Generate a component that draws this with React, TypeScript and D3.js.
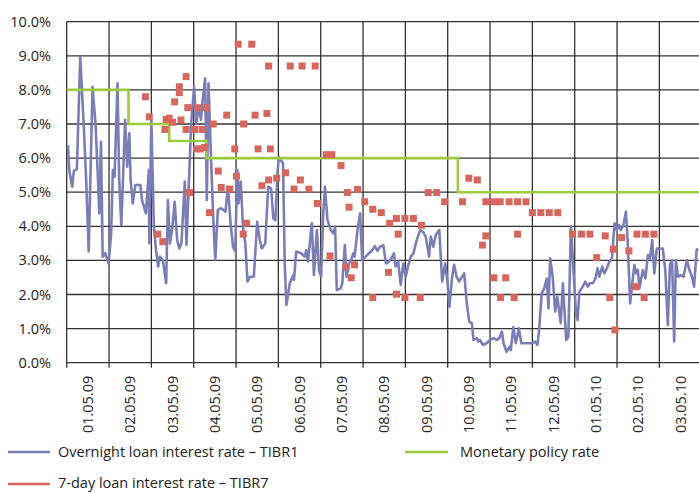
import React from "react";
import * as d3 from "d3";

const monthLabels = [
  "01.05.09", "02.05.09", "03.05.09", "04.05.09", "05.05.09", "06.05.09",
  "07.05.09", "08.05.09", "09.05.09", "10.05.09", "11.05.09", "12.05.09",
  "01.05.10", "02.05.10", "03.05.10",
];
const yTicks = [0, 1, 2, 3, 4, 5, 6, 7, 8, 9, 10];

// Monetary policy rate (step changes), x in months from start
const policyPos = [0, 1.46, 2.42, 3.3, 9.24, 15];
const policyRate = [8.0, 7.0, 6.5, 6.0, 5.0, 5.0];

// Overnight rate TIBR1
const overnightPos = [
  0.03, 0.06, 0.13, 0.17, 0.24, 0.32, 0.4, 0.46, 0.52, 0.61, 0.68, 0.74, 0.77, 0.81, 0.85, 0.91, 0.99,
  1.05, 1.09, 1.13, 1.2, 1.24, 1.29, 1.35, 1.38, 1.43, 1.48, 1.51, 1.56, 1.62, 1.74, 1.78, 1.87, 1.94, 1.95,
  2.0, 2.06, 2.11, 2.16, 2.2, 2.27, 2.35, 2.39, 2.44, 2.5, 2.55, 2.61, 2.66, 2.71, 2.79, 2.83, 2.94,
  3.01, 3.06, 3.12, 3.17, 3.22, 3.27, 3.31, 3.35, 3.4, 3.46, 3.51, 3.57, 3.65, 3.75, 3.81, 3.87, 3.93, 3.98,
  4.03, 4.06, 4.11, 4.17, 4.22, 4.27, 4.33, 4.42, 4.5, 4.56, 4.61, 4.69, 4.76, 4.83, 4.88, 4.93, 4.98,
  5.01, 5.06, 5.11, 5.15, 5.19, 5.27, 5.35, 5.37, 5.42, 5.54, 5.62, 5.66, 5.7, 5.79, 5.84, 5.91, 5.96,
  6.01, 6.06, 6.1, 6.16, 6.24, 6.3, 6.34, 6.38, 6.47, 6.51, 6.57, 6.61, 6.67, 6.72, 6.77, 6.8, 6.87, 6.93, 6.98,
  7.06, 7.14, 7.22, 7.28, 7.34, 7.4, 7.48, 7.54, 7.61, 7.67, 7.73, 7.77, 7.83, 7.89, 7.95,
  8.01, 8.06, 8.13, 8.19, 8.27, 8.35, 8.42, 8.48, 8.56, 8.6, 8.66, 8.72, 8.8, 8.87, 8.94, 8.99,
  9.04, 9.1, 9.15, 9.21, 9.27, 9.39, 9.45, 9.51, 9.57, 9.61, 9.69, 9.72, 9.76, 9.83, 9.92,
  10.0, 10.08, 10.16, 10.22, 10.28, 10.32, 10.39, 10.46, 10.49, 10.55, 10.61, 10.68, 10.74, 10.87, 10.99,
  11.06, 11.12, 11.16, 11.22, 11.28, 11.34, 11.38, 11.42, 11.48, 11.54, 11.59, 11.67, 11.72, 11.8, 11.85, 11.91, 11.97,
  12.03, 12.07, 12.11, 12.19, 12.25, 12.31, 12.36, 12.43, 12.49, 12.54, 12.58, 12.65, 12.7, 12.76, 12.82, 12.88, 12.94, 12.99,
  13.05, 13.09, 13.15, 13.21, 13.25, 13.31, 13.35, 13.41, 13.45, 13.49, 13.53, 13.61, 13.67, 13.73, 13.78, 13.83, 13.88, 13.94,
  14.0, 14.08, 14.14, 14.2, 14.25, 14.3, 14.35, 14.39, 14.44, 14.51, 14.57, 14.65, 14.71, 14.77, 14.82, 14.88, 14.91,
];
const overnightRate = [
  6.38, 5.65, 5.16, 5.63, 5.67, 8.97, 7.02, 5.36, 3.26, 8.09, 7.02, 5.36, 4.38, 6.48, 3.11, 3.21, 2.91,
  3.79, 5.65, 5.45, 8.19, 5.36, 4.04, 6.09, 7.12, 5.75, 6.73, 5.36, 4.67, 5.21, 5.21, 4.77, 4.38, 5.65, 3.5,
  7.12, 3.99, 3.3, 2.82, 3.11, 3.01, 2.33, 4.77, 3.5, 3.99, 4.72, 3.6, 3.35, 3.5, 5.31, 3.45, 7.02,
  8.09, 7.02, 7.51, 7.12, 7.8, 8.34, 4.77, 8.19, 6.33, 4.28, 3.01, 4.48, 4.53, 4.43, 5.16, 4.09, 3.4, 3.26,
  5.65, 4.67, 5.31, 3.89, 3.5, 2.38, 2.52, 2.52, 4.13, 3.6, 3.35, 3.5, 5.16, 5.11, 4.23, 4.18, 5.55,
  6.04, 5.94, 5.85, 2.91, 1.69, 2.33, 2.57, 2.43, 3.26, 3.21, 3.11, 3.3, 2.96, 4.09, 2.57, 3.89, 2.72,
  2.52, 4.38, 5.16, 4.18, 3.89, 3.79, 3.99, 2.13, 2.18, 2.33, 3.45, 2.52, 2.91, 3.01, 3.21, 3.11, 3.89, 4.38, 3.01,
  3.11, 3.21, 3.3, 3.42, 3.28, 3.4, 3.45, 2.91, 2.96, 3.06, 3.21, 2.82, 2.96, 2.28, 2.91,
  2.52, 2.82, 3.11, 3.21, 3.6, 3.89, 3.84, 3.7, 3.11, 3.7, 3.4, 3.75, 3.89, 2.38, 2.91, 2.43,
  1.64, 2.47, 2.87, 2.52, 2.38, 2.62, 1.74, 1.2, 1.16, 0.67, 0.72, 0.62, 0.67, 0.52, 0.57,
  0.67, 0.72, 0.67, 0.72, 0.91, 0.57, 0.32, 0.47, 0.37, 1.04, 0.57, 1.01, 0.57, 0.57, 0.57,
  0.62, 0.52, 0.96, 2.03, 2.18, 2.47, 1.6, 3.06, 2.52, 1.5, 1.94, 1.16, 2.33, 0.67, 0.76, 3.99, 2.72,
  1.45, 1.25, 2.08, 2.23, 2.38, 2.23, 2.33, 2.33, 2.47, 2.77, 2.52, 2.82, 2.62, 2.77, 2.96, 3.06, 4.09, 3.89,
  4.04, 3.89, 4.04, 4.43, 3.6, 1.74, 2.23, 2.87, 2.62, 2.72, 2.18, 2.72, 2.47, 3.16, 3.06, 3.6, 2.62, 3.35,
  3.35, 3.35, 2.72, 1.11, 2.87, 3.01, 0.62, 3.01, 2.52, 2.57, 2.52, 3.01, 2.72, 2.52, 2.23, 3.3, 3.35,
];

// 7-day rate TIBR7
const tibr7Pos = [
  1.86, 1.95, 2.15, 2.27, 2.32, 2.35, 2.42, 2.5, 2.55, 2.66, 2.66, 2.7, 2.82, 2.82, 2.86, 2.9,
  3.03, 3.1, 3.07, 3.15, 3.26, 3.21, 3.3, 3.37, 3.46, 3.58, 3.65, 3.78, 3.85, 3.97,
  4.01, 4.05, 4.17, 4.18, 4.25, 4.37, 4.45, 4.52, 4.61, 4.73, 4.77, 4.77, 4.81, 4.96,
  5.17, 5.28, 5.37, 5.52, 5.56, 5.72, 5.87, 5.92,
  6.13, 6.26, 6.22, 6.48, 6.6, 6.63, 6.67, 6.72, 6.8, 6.87,
  7.04, 7.23, 7.23, 7.43, 7.6, 7.63, 7.79, 7.79, 7.83, 7.99, 7.99,
  8.19, 8.35, 8.38, 8.54, 8.74, 8.93,
  9.35, 9.5, 9.7, 9.82, 9.9, 9.9,
  10.09, 10.09, 10.24, 10.25, 10.37, 10.45, 10.57, 10.65, 10.65, 10.85,
  11.0, 11.2, 11.4, 11.6, 11.95,
  12.16, 12.36, 12.52, 12.72, 12.83, 12.91, 12.95,
  13.11, 13.28, 13.44, 13.47, 13.64, 13.67, 13.87,
];
const tibr7Rate = [
  7.8, 7.21, 3.77, 3.55, 6.84, 7.13, 7.17, 7.05, 7.65, 7.92, 8.09, 7.12, 8.39, 6.84, 7.48, 4.99,
  6.84, 7.48, 6.27, 6.27, 6.31, 6.84, 7.48, 4.4, 7.0, 5.62, 5.14, 7.26, 5.09, 6.27,
  5.47, 9.34, 3.77, 7.0, 4.09, 9.34, 7.26, 6.27, 5.19, 7.31, 8.7, 5.36, 6.27, 5.41,
  5.57, 8.7, 5.09, 5.36, 8.7, 5.09, 8.7, 4.67,
  6.1, 6.1, 3.13, 5.78, 2.81, 4.99, 4.56, 2.49, 2.87, 5.08,
  4.72, 4.5, 1.91, 4.4, 2.65, 4.09, 4.23, 2.01, 3.77, 4.23, 1.91,
  4.23, 1.91, 4.03, 4.99, 4.99, 4.72,
  4.72, 5.41, 5.36, 3.45, 3.72, 4.72,
  4.72, 2.49, 4.72, 1.91, 2.49, 4.72, 1.91, 4.72, 3.77, 4.72,
  4.4, 4.4, 4.4, 4.4, 3.77,
  3.77, 3.77, 3.08, 3.72, 1.91, 3.33, 0.96,
  3.67, 3.28, 2.23, 3.77, 1.91, 3.77, 3.77,
];

const W = 699;
const H = 493;
const FONT = "'Open Sans', 'Liberation Sans', sans-serif";
const BLUE = "#7b7eb4";
const GREEN = "#9ccb3b";
const RED = "#d6675e";

export default function App() {
  const x = d3.scaleLinear().domain([0, 15]).range([66.7, 701.7]);
  const y = d3.scaleLinear().domain([0, 10]).range([362.7, 21.7]);

  const overnight = overnightPos.map((p, i) => [p, overnightRate[i]] as [number, number]);
  const policy = policyPos.map((p, i) => [p, policyRate[i]] as [number, number]);

  const lineGen = d3
    .line<[number, number]>()
    .x((d) => x(d[0]))
    .y((d) => y(d[1]));
  const stepGen = d3
    .line<[number, number]>()
    .x((d) => x(d[0]))
    .y((d) => y(d[1]))
    .curve(d3.curveStepAfter);

  const monthIdx = d3.range(0, 16);
  const sq = 7;

  return (
    <div style={{ position: "absolute", left: 0, top: 0 }}>
      <svg width={W} height={H} style={{ display: "block", background: "#fff" }} fontFamily={FONT}>
        {/* horizontal grid */}
        {yTicks.map((t) => (
          <line key={"h" + t} x1={x(0)} x2={x(15)} y1={y(t)} y2={y(t)} stroke="#333" strokeWidth={1.3} />
        ))}
        {/* vertical grid + ticks */}
        {monthIdx.map((m) => (
          <line key={"v" + m} x1={x(m)} x2={x(m)} y1={y(10)} y2={y(0) + 5} stroke="#333" strokeWidth={1.3} />
        ))}
        {/* y labels */}
        {yTicks.map((t) => (
          <text key={"yl" + t} x={51} y={y(t)} dy="0.35em" textAnchor="end" fontSize={14.5} fill="#222">
            {d3.format(".1f")(t) + "%"}
          </text>
        ))}
        {/* x labels */}
        {monthLabels.map((lab, i) => (
          <text
            key={"xl" + i}
            transform={`translate(${x(i + 0.5) + 5},${y(0) + 13}) rotate(-90)`}
            textAnchor="end"
            fontSize={14.5}
            fill="#222"
          >
            {lab}
          </text>
        ))}
        {/* overnight line */}
        <path d={lineGen(overnight) || ""} fill="none" stroke={BLUE} strokeWidth={2.6} strokeLinejoin="round" />
        {/* policy rate */}
        <path d={stepGen(policy) || ""} fill="none" stroke={GREEN} strokeWidth={2.6} />
        {/* tibr7 squares */}
        {tibr7Pos.map((p, i) => (
          <rect key={"s" + i} x={x(p) - sq / 2} y={y(tibr7Rate[i]) - sq / 2} width={sq} height={sq} fill={RED} />
        ))}
        {/* legend */}
        <line x1={8} x2={50} y1={452} y2={452} stroke={BLUE} strokeWidth={2.6} />
        <text x={58} y={452} dy="0.35em" fontSize={14.5} fill="#222">
          Overnight loan interest rate – TIBR1
        </text>
        <line x1={405} x2={448} y1={452} y2={452} stroke={GREEN} strokeWidth={2.6} />
        <text x={460} y={452} dy="0.35em" fontSize={14.5} fill="#222">
          Monetary policy rate
        </text>
        <line x1={8} x2={50} y1={484} y2={484} stroke={RED} strokeWidth={2.6} />
        <text x={58} y={483} dy="0.35em" fontSize={14.5} fill="#222">
          7-day loan interest rate – TIBR7
        </text>
      </svg>
    </div>
  );
}
